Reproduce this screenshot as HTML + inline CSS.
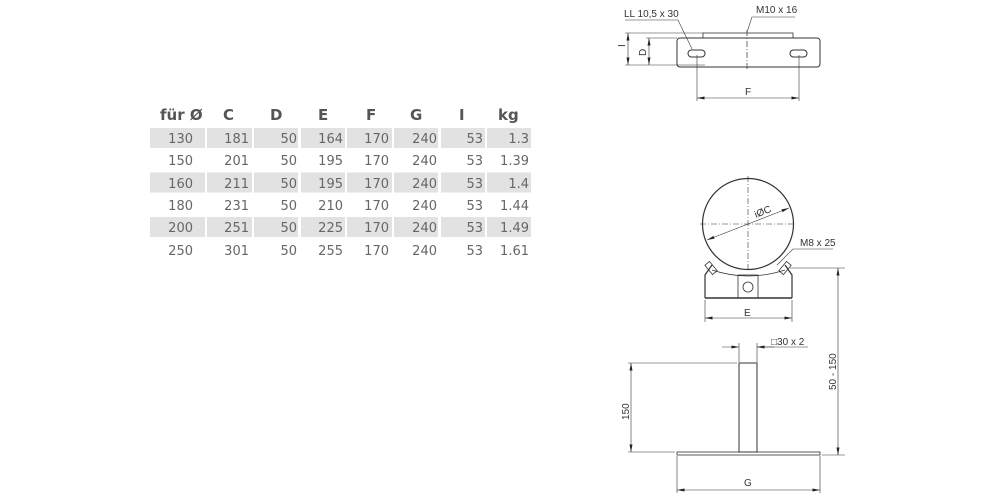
<!DOCTYPE html>
<html><head><meta charset="utf-8"><style>
html,body{margin:0;padding:0;background:#fff;}
svg{display:block;}
.h{font:bold 15px "DejaVu Sans","Liberation Sans",sans-serif;fill:#555;}
.n{font:13px "DejaVu Sans","Liberation Sans",sans-serif;fill:#666;}
.l{font:10px "Liberation Sans",sans-serif;fill:#333;}
</style></head><body>
<svg width="1000" height="500" viewBox="0 0 1000 500" xmlns="http://www.w3.org/2000/svg">
<defs>
<marker id="a" viewBox="0 0 10 4" refX="10" refY="2" markerUnits="userSpaceOnUse" markerWidth="8" markerHeight="3" orient="auto-start-reverse"><path d="M0,0L10,2L0,4z" fill="#222"/></marker>
</defs>
<!-- table -->
<g fill="#e2e2e2">
<g id="r"><rect x="150" y="128" width="55" height="20"/><rect x="207" y="128" width="45" height="20"/><rect x="254" y="128" width="44" height="20"/><rect x="301" y="128" width="44" height="20"/><rect x="347" y="128" width="45" height="20"/><rect x="394" y="128" width="44" height="20"/><rect x="441" y="128" width="44" height="20"/><rect x="487" y="128" width="44" height="20"/></g>
<use href="#r" y="44.5"/><use href="#r" y="89"/>
</g>
<g class="h"><text x="160" y="120">für Ø</text><text x="223" y="120">C</text><text x="270" y="120">D</text><text x="318" y="120">E</text><text x="366" y="120">F</text><text x="410" y="120">G</text><text x="459" y="120">I</text><text x="498" y="120">kg</text></g>
<g class="n" text-anchor="end">
<text y="143"><tspan x="193">130</tspan><tspan x="249">181</tspan><tspan x="297">50</tspan><tspan x="343">164</tspan><tspan x="389">170</tspan><tspan x="437">240</tspan><tspan x="483">53</tspan><tspan x="529">1.3</tspan></text>
<text y="165"><tspan x="193">150</tspan><tspan x="249">201</tspan><tspan x="297">50</tspan><tspan x="343">195</tspan><tspan x="389">170</tspan><tspan x="437">240</tspan><tspan x="483">53</tspan><tspan x="529">1.39</tspan></text>
<text y="188"><tspan x="193">160</tspan><tspan x="249">211</tspan><tspan x="297">50</tspan><tspan x="343">195</tspan><tspan x="389">170</tspan><tspan x="437">240</tspan><tspan x="483">53</tspan><tspan x="529">1.4</tspan></text>
<text y="210"><tspan x="193">180</tspan><tspan x="249">231</tspan><tspan x="297">50</tspan><tspan x="343">210</tspan><tspan x="389">170</tspan><tspan x="437">240</tspan><tspan x="483">53</tspan><tspan x="529">1.44</tspan></text>
<text y="232"><tspan x="193">200</tspan><tspan x="249">251</tspan><tspan x="297">50</tspan><tspan x="343">225</tspan><tspan x="389">170</tspan><tspan x="437">240</tspan><tspan x="483">53</tspan><tspan x="529">1.49</tspan></text>
<text y="255"><tspan x="193">250</tspan><tspan x="249">301</tspan><tspan x="297">50</tspan><tspan x="343">255</tspan><tspan x="389">170</tspan><tspan x="437">240</tspan><tspan x="483">53</tspan><tspan x="529">1.61</tspan></text>
</g>
<!-- top view -->
<g fill="none" stroke="#333" stroke-width="1">
<rect x="677" y="38" width="143" height="29" rx="3"/>
<rect x="703" y="33" width="90" height="5" stroke-width="0.8"/>
<rect x="688" y="50" width="17" height="7" rx="3.5"/>
<rect x="790" y="50" width="17" height="7" rx="3.5"/>
<line x1="747" y1="30" x2="747" y2="70" stroke-dasharray="6,2,1,2" stroke-width="0.7"/>
<g stroke-width="0.6">
<line x1="625" y1="33" x2="703" y2="33"/><line x1="625" y1="65" x2="705" y2="65"/>
<line x1="628" y1="33" x2="628" y2="65" marker-start="url(#a)" marker-end="url(#a)"/>
<line x1="646" y1="38" x2="677" y2="38"/>
<line x1="649" y1="38" x2="649" y2="65" marker-start="url(#a)" marker-end="url(#a)"/>
<line x1="697" y1="55" x2="697" y2="101"/><line x1="799" y1="55" x2="799" y2="101"/>
<line x1="697" y1="98" x2="799" y2="98" marker-start="url(#a)" marker-end="url(#a)"/>
<polyline points="625,20 678,20 692,49"/>
<polyline points="795,17 752,17 747,32"/>
</g>
</g>
<g class="l"><text x="624" y="17">LL 10,5 x 30</text><text x="756" y="13">M10 x 16</text><text x="745" y="95">F</text>
<text transform="translate(625,47) rotate(-90)">I</text><text transform="translate(646,56) rotate(-90)">D</text></g>
<!-- middle view -->
<g fill="none" stroke="#333">
<circle cx="748" cy="224" r="45.5" stroke-width="1.2"/>
<g stroke-width="0.6" stroke-dasharray="6,2,1,2"><line x1="748" y1="176" x2="748" y2="272"/><line x1="700" y1="224" x2="796" y2="224"/></g>
<line x1="707" y1="240" x2="789" y2="208" stroke-width="0.6" marker-start="url(#a)" marker-end="url(#a)"/>
<path d="M705,298 L705,275 L712,265 M792,298 L792,275 L785,265" stroke-width="1.2"/>
<line x1="705" y1="298" x2="792" y2="298" stroke-width="1.5"/>
<path d="M712,270 Q748,282 785,270" stroke-width="0.8"/>
<rect x="738" y="275" width="20" height="23" stroke-width="0.8"/>
<circle cx="748" cy="287" r="5" stroke-width="0.8"/>
<rect x="708" y="262" width="6" height="12" transform="rotate(-40 711 268)" stroke-width="0.8"/>
<rect x="782" y="262" width="6" height="12" transform="rotate(40 785 268)" stroke-width="0.8"/>
<g stroke-width="0.6">
<line x1="705" y1="300" x2="705" y2="322"/><line x1="792" y1="300" x2="792" y2="322"/>
<line x1="705" y1="318" x2="792" y2="318" marker-start="url(#a)" marker-end="url(#a)"/>
<polyline points="777,265 793,249 833,249"/>
<line x1="790" y1="268" x2="845" y2="268"/>
<line x1="838" y1="268" x2="838" y2="455" marker-start="url(#a)" marker-end="url(#a)"/>
<line x1="822" y1="455" x2="845" y2="455"/>
</g>
</g>
<g class="l"><text x="800" y="246">M8 x 25</text><text x="744" y="316">E</text>
<text transform="translate(756,218) rotate(-22)">iØC</text>
<text transform="translate(836,390) rotate(-90)">50 - 150</text></g>
<!-- bottom view -->
<g fill="none" stroke="#333">
<rect x="739" y="363" width="18" height="89" stroke-width="1"/>
<rect x="677" y="452" width="143" height="3" stroke-width="0.8"/>
<g stroke-width="0.6">
<line x1="739" y1="343" x2="739" y2="362"/><line x1="757" y1="343" x2="757" y2="362"/>
<line x1="722" y1="347" x2="739" y2="347" marker-end="url(#a)"/>
<line x1="774" y1="347" x2="757" y2="347" marker-end="url(#a)"/>
<line x1="757" y1="347" x2="808" y2="347"/>
<line x1="628" y1="363" x2="737" y2="363"/><line x1="628" y1="452" x2="675" y2="452"/>
<line x1="631" y1="363" x2="631" y2="452" marker-start="url(#a)" marker-end="url(#a)"/>
<line x1="677" y1="456" x2="677" y2="493"/><line x1="820" y1="456" x2="820" y2="493"/>
<line x1="677" y1="490" x2="820" y2="490" marker-start="url(#a)" marker-end="url(#a)"/>
</g>
</g>
<g class="l"><text x="771" y="345">□30 x 2</text><text x="744" y="486">G</text>
<text transform="translate(629,420) rotate(-90)">150</text></g>
</svg>
</body></html>
